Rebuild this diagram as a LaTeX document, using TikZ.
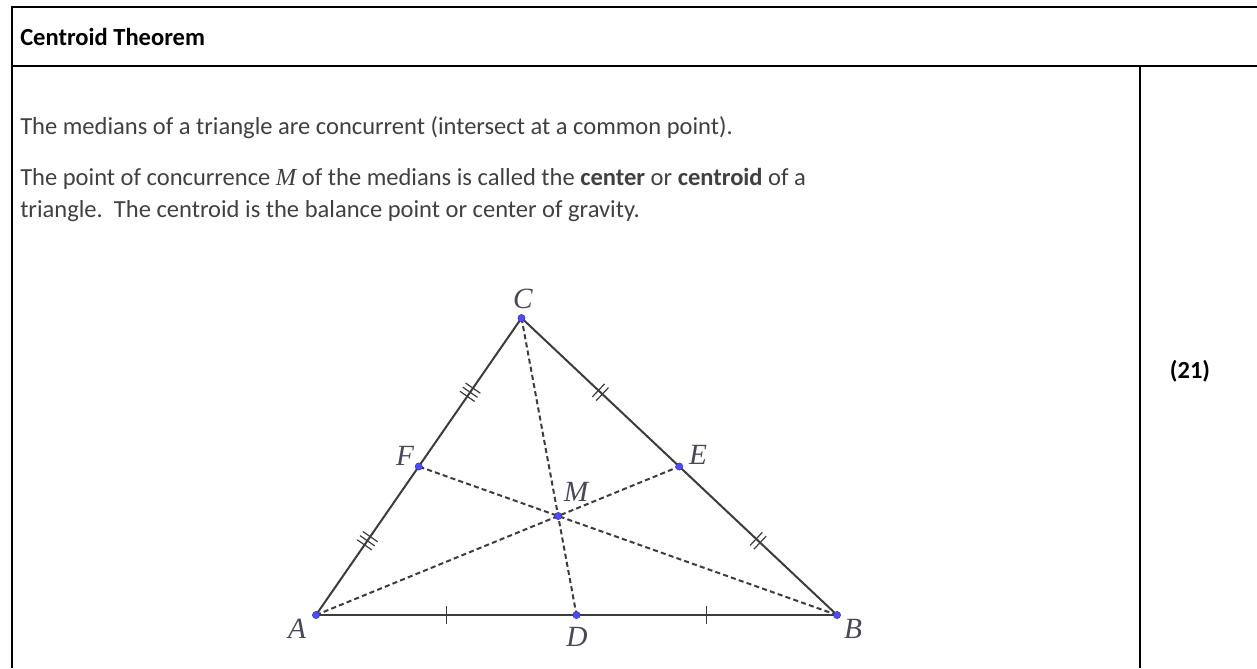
\documentclass[tikz,border=0pt]{standalone}
\usepackage{fontspec}
\setmainfont{Carlito}
\newfontfamily\lblfont{Liberation Serif}
\usetikzlibrary{calc,decorations.markings}

\definecolor{txtgray}{RGB}{64,64,64}
\definecolor{linegray}{RGB}{60,60,60}
\definecolor{lblgray}{RGB}{72,72,86}
\definecolor{ptblue}{RGB}{77,77,255}

\newcommand{\vlabel}[1]{{\lblfont\itshape #1}}

\begin{document}
\begin{tikzpicture}[
  x=0.75pt, y=-0.75pt,
  frame/.style={line width=1.5pt, black},
  body/.style={anchor=base west, inner sep=0pt, text=txtgray, align=left,
    font=\fontsize{18.4}{24}\selectfont},
  side/.style={line width=1.5pt, draw=linegray},
  median/.style={line width=1.5pt, draw=linegray, dash pattern=on 3.8pt off 2.4pt},
  pt/.style={circle, fill=ptblue, draw=ptblue!60!black, line width=0.3pt,
    inner sep=0pt, minimum size=5.5pt},
  lbl/.style={text=lblgray, inner sep=0pt, font=\fontsize{22}{22}\selectfont},
  tk/.style={draw=linegray, line width=0.9pt},
  tick1/.style={postaction={decorate, decoration={markings,
    mark=at position 0.5 with {\draw[tk] (0,-9) -- (0,9);}}}},
  tick2/.style={postaction={decorate, decoration={markings,
    mark=at position 0.5 with {\draw[tk] (-2.7,-9) -- (-2.7,9); \draw[tk] (2.7,-9) -- (2.7,9);}}}},
  tick3/.style={postaction={decorate, decoration={markings,
    mark=at position 0.5 with {\draw[tk] (-5,-9) -- (-5,9); \draw[tk] (0,-9) -- (0,9); \draw[tk] (5,-9) -- (5,9);}}}}
]
\useasboundingbox (0,0) rectangle (1257,668);

% Table frame
\draw[frame] (12,7) -- (1257,7);
\draw[frame] (12,66) -- (1257,66);
\draw[frame] (12,6) -- (12,668);
\draw[frame] (1140,66) -- (1140,668);

% Texts
\node[anchor=base west, inner sep=0pt, font=\fontsize{18.4}{24}\selectfont\bfseries] (title) at (20,45) {Centroid Theorem};
\node[body] (line1) at (20,134) {The medians of a triangle are concurrent (intersect at a common point).};
\node[body] (line2) at (20,217) {The point of concurrence \vlabel{M} of the medians is called the \textbf{center} or \textbf{centroid} of a\\
triangle.\ \ The centroid is the balance point or center of gravity.};
\node[anchor=base, inner sep=0pt, font=\fontsize{18.4}{24}\selectfont\bfseries] (num) at (1190,378) {(21)};

% Triangle
\coordinate (A) at (316,615);
\coordinate (B) at (837,615);
\coordinate (C) at (521.5,318);
\coordinate (D) at ($(A)!0.5!(B)$);
\coordinate (E) at ($(B)!0.5!(C)$);
\coordinate (F) at ($(C)!0.5!(A)$);
\coordinate (M) at ($(A)!2/3!(E)$);

% Medians
\draw[median] (A) -- (E);
\draw[median] (B) -- (F);
\draw[median] (C) -- (D);

% Sides with equal-length marks
\draw[side, tick1] (A) -- (D);
\draw[side, tick1] (D) -- (B);
\draw[side, tick2] (C) -- (E);
\draw[side, tick2] (E) -- (B);
\draw[side, tick3] (C) -- (F);
\draw[side, tick3] (F) -- (A);

% Points
\foreach \p in {A,B,C,D,E,F,M}
  \node[pt] (p\p) at (\p) {};

% Labels
\node[lbl] (lA) at (297,629) {\vlabel{A}};
\node[lbl] (lB) at (853,629) {\vlabel{B}};
\node[lbl] (lC) at (523,299) {\vlabel{C}};
\node[lbl] (lD) at (577,637) {\vlabel{D}};
\node[lbl] (lE) at (698,455) {\vlabel{E}};
\node[lbl] (lF) at (405,456) {\vlabel{F}};
\node[lbl] (lM) at (576,492) {\vlabel{M}};

\end{tikzpicture}
\end{document}
